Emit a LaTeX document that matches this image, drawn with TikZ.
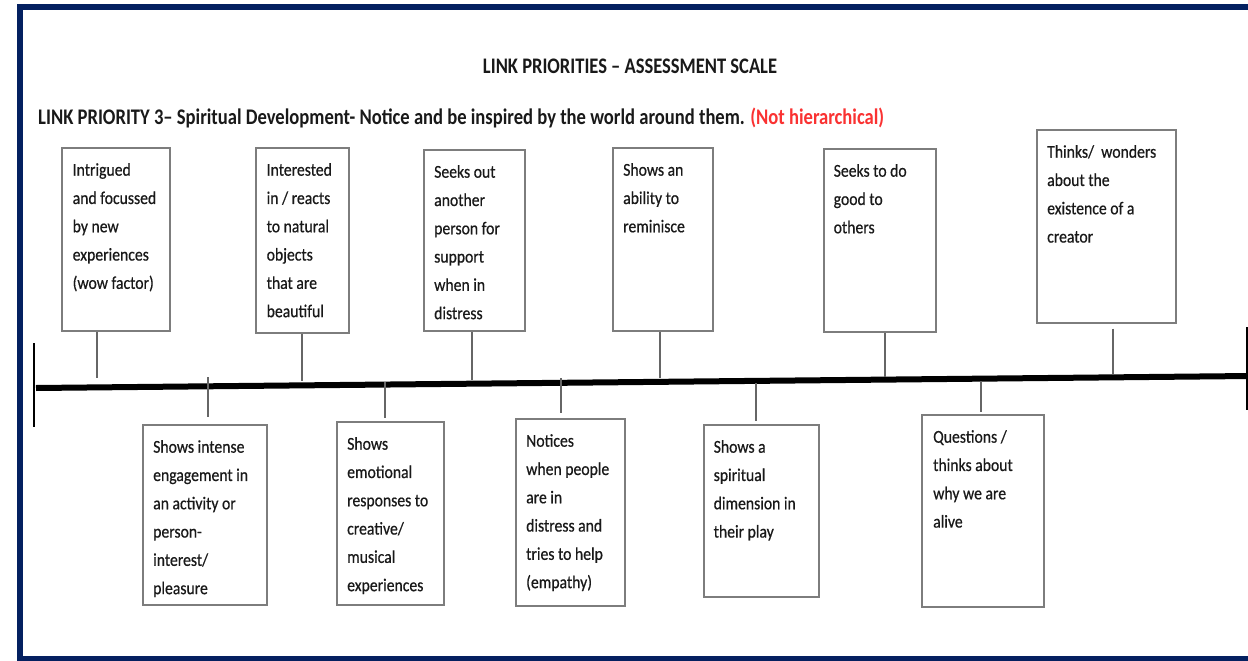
\documentclass[tikz,border=0pt]{standalone}
\usepackage{fontspec}
\setmainfont{Carlito}
\usepackage{graphicx}
\definecolor{navy}{RGB}{4,32,96}
\definecolor{boxgray}{RGB}{125,125,125}
\definecolor{txt}{RGB}{25,25,25}
\definecolor{redtxt}{RGB}{250,50,50}
\tikzset{
  box/.style={draw=boxgray, line width=1.6pt, fill=white, inner sep=0pt, anchor=north west},
  boxtext/.style={anchor=north west, inner sep=0pt, text=txt,
    font=\fontsize{15.7}{24.6}\selectfont\addfontfeature{FakeBold=0.6}},
  conn/.style={draw=black!60, line width=1.2pt},
  timeline/.style={draw=black, line width=6pt},
  tick/.style={draw=black, line width=1.5pt}
}
\newcommand{\mybox}[7]{%
  \node[box, minimum width=#4pt, minimum height=#5pt] (#1) at (#2,#3) {};
  \node[boxtext] (#1txt) at ([xshift=#6pt,yshift=-8.7pt]#1.north west)
    {\scalebox{1}[1.15]{\begin{tabular}{@{}l@{}}#7\end{tabular}}};
}
\begin{document}
\begin{tikzpicture}[x=1pt,y=-1pt]
\useasboundingbox (0,0) rectangle (1248,661);
\clip (0,0) rectangle (1248,661);
\fill[white] (0,0) rectangle (1248,661);
% frame
\draw[navy, line width=6pt] (20,7) rectangle (1265,659);

% titles
\node[inner sep=0pt, text=txt] (title) at (630,66) {\resizebox{294pt}{!}{\scalebox{1}[1.2]{\bfseries LINK PRIORITIES – ASSESSMENT SCALE}}};
\node[inner sep=0pt, anchor=west, text=txt] (subtitle) at (38,118) {\resizebox{846pt}{!}{\scalebox{1}[1.2]{\bfseries LINK PRIORITY 3– Spiritual Development- Notice and be inspired by the world around them. \textcolor{redtxt}{(Not hierarchical)}}}};

% timeline
\coordinate (L) at (36,388);
\coordinate (R) at (1250,376);
\draw[timeline] (L) -- (R);
\coordinate (LT) at (34,343);
\coordinate (LB) at (34,427);
\coordinate (RT) at (1247,327);
\coordinate (RB) at (1247,410);
\draw[tick] (LT) -- (LB);
\draw[tick] (RT) -- (RB);

% top boxes
\mybox{t1}{61}{147}{108}{183}{11.5}{Intrigued\\and focussed\\by new\\experiences\\(wow factor)}
\mybox{t2}{255}{147}{93}{185}{11.5}{Interested\\in / reacts\\to natural\\objects\\that are\\beautiful}
\mybox{t3}{423}{149}{101}{181}{11}{Seeks out\\another\\person for\\support\\when in\\distress}
\mybox{t4}{612}{147}{100}{183}{11}{Shows an\\ability to\\reminisce}
\mybox{t5}{823}{148}{112}{183}{10.5}{Seeks to do\\good to\\others}
\mybox{t6}{1036}{129}{139}{193}{11}{Thinks/\ \ wonders\\about the\\existence of a\\creator}

% bottom boxes
\mybox{b1}{142}{424}{124}{180}{11}{Shows intense\\engagement in\\an activity or\\person-\\interest/\\pleasure}
\mybox{b2}{336}{421}{107}{183}{11}{Shows\\emotional\\responses to\\creative/\\musical\\experiences}
\mybox{b3}{515}{418}{109}{187}{11}{Notices\\when people\\are in\\distress and\\tries to help\\(empathy)}
\mybox{b4}{703}{424}{115}{172}{10.5}{Shows a\\spiritual\\dimension in\\their play}
\mybox{b5}{921}{414}{122}{192}{12}{Questions /\\thinks about\\why we are\\alive}

% connector points on the line
\coordinate (p1) at (97,378);
\coordinate (p2) at (302,381);
\coordinate (p3) at (472,380);
\coordinate (p4) at (660,378);
\coordinate (p5) at (885,377);
\coordinate (p6) at (1113,374);
\coordinate (q1) at (208,377);
\coordinate (q2) at (385,382);
\coordinate (q3) at (561,378);
\coordinate (q4) at (756,383);
\coordinate (q5) at (981,381);

\draw[conn] (t1.south -| p1) -- (p1);
\draw[conn] (t2.south -| p2) -- (p2);
\draw[conn] (t3.south -| p3) -- (p3);
\draw[conn] (t4.south -| p4) -- (p4);
\draw[conn] (t5.south -| p5) -- (p5);
\draw[conn, shorten <=5pt] (t6.south -| p6) -- (p6);
\draw[conn, shorten >=7pt] (q1) -- (b1.north -| q1);
\draw[conn, shorten >=3pt] (q2) -- (b2.north -| q2);
\draw[conn, shorten >=5pt] (q3) -- (b3.north -| q3);
\draw[conn, shorten >=3pt] (q4) -- (b4.north -| q4);
\draw[conn, shorten >=2pt] (q5) -- (b5.north -| q5);
\end{tikzpicture}
\end{document}
